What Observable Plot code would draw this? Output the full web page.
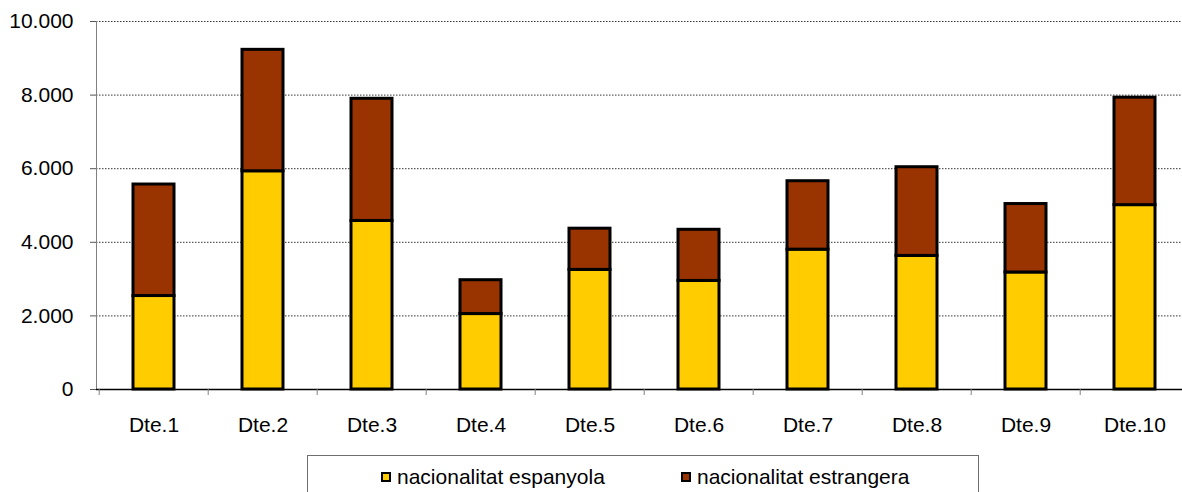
<!DOCTYPE html>
<html>
<head>
<meta charset="utf-8">
<script src="https://cdn.jsdelivr.net/npm/d3@7"></script>
<script src="https://cdn.jsdelivr.net/npm/@observablehq/plot@0.6"></script>
<style>
  html, body { margin: 0; padding: 0; background: #fff; }
  #wrap { position: relative; width: 1182px; height: 492px; overflow: hidden; font-family: "Liberation Sans", Arial, sans-serif; }
  #legend { position: absolute; left: 307px; top: 455px; width: 672px; height: 60px; border: 1px solid #6e6e6e; box-sizing: border-box; }
  .item { position: absolute; top: 7px; height: 28px; display: flex; align-items: center; font-size: 21px; color: #000; white-space: nowrap; }
  .sw { width: 6px; height: 6px; border: 2px solid #000; margin-right: 6px; }
</style>
</head>
<body>
<div id="wrap">
  <div id="chart"></div>
  <div id="legend"></div>
</div>
<script>
const districts = ["Dte.1", "Dte.2", "Dte.3", "Dte.4", "Dte.5", "Dte.6", "Dte.7", "Dte.8", "Dte.9", "Dte.10"];
const espanyola = [2540, 5930, 4580, 2050, 3250, 2950, 3800, 3630, 3180, 5010];
const estrangera = [3030, 3300, 3320, 920, 1120, 1390, 1860, 2410, 1860, 2920];
const seriesNames = ["nacionalitat espanyola", "nacionalitat estrangera"];
const seriesColors = ["#FFCC00", "#993300"];
const yTicks = [0, 2000, 4000, 6000, 8000, 10000];

const rows = [];
districts.forEach((d, i) => {
  rows.push({district: d, series: seriesNames[0], value: espanyola[i]});
  rows.push({district: d, series: seriesNames[1], value: estrangera[i]});
});

const fmt = d => d3.format(",")(d).replace(/,/g, ".");
const pIn = 0.62, pOut = 0.31;
const step = (1192 - 96) / (districts.length - pIn + 2 * pOut);

const chart = Plot.plot({
  width: 1182,
  height: 450,
  marginLeft: 96,
  marginRight: 0,
  marginTop: 21,
  marginBottom: 61,
  style: {fontFamily: "'Liberation Sans', Arial, sans-serif", fontSize: "21px", background: "#fff", color: "#000"},
  x: {domain: districts, range: [96, 1192], paddingInner: pIn, paddingOuter: pOut, align: 0.5, label: null},
  y: {domain: [0, 10000], label: null},
  color: {domain: seriesNames, range: seriesColors},
  marks: [
    Plot.gridY(yTicks.slice(1), {stroke: "#000", strokeOpacity: 0.8, strokeDasharray: "1.5,1.5"}),
    Plot.frame({anchor: "left", stroke: "#808080"}),
    Plot.axisY(yTicks, {tickSize: 6, tickPadding: 17, tickFormat: fmt, fontSize: 21, stroke: "#555", label: null}),
    Plot.barY(rows, {x: "district", y: "value", fill: "series", stroke: "#000", strokeWidth: 3, order: seriesNames}),
    Plot.ruleY([0], {stroke: "#000", strokeWidth: 1.5}),
    Plot.axisX({tickSize: 6, tickFormat: () => "", dx: -step / 2, stroke: "#808080", label: null}),
    Plot.axisX({tickSize: 0, tickPadding: 28, fontSize: 21, label: null})
  ]
});
document.getElementById("chart").appendChild(chart);

const legend = document.getElementById("legend");
const lefts = [73, 373];
seriesNames.forEach((name, i) => {
  const item = document.createElement("div");
  item.className = "item";
  item.style.left = lefts[i] + "px";
  const sw = document.createElement("div");
  sw.className = "sw";
  sw.style.background = seriesColors[i];
  const label = document.createElement("span");
  label.textContent = name;
  item.appendChild(sw);
  item.appendChild(label);
  legend.appendChild(item);
});
</script>
</body>
</html>
